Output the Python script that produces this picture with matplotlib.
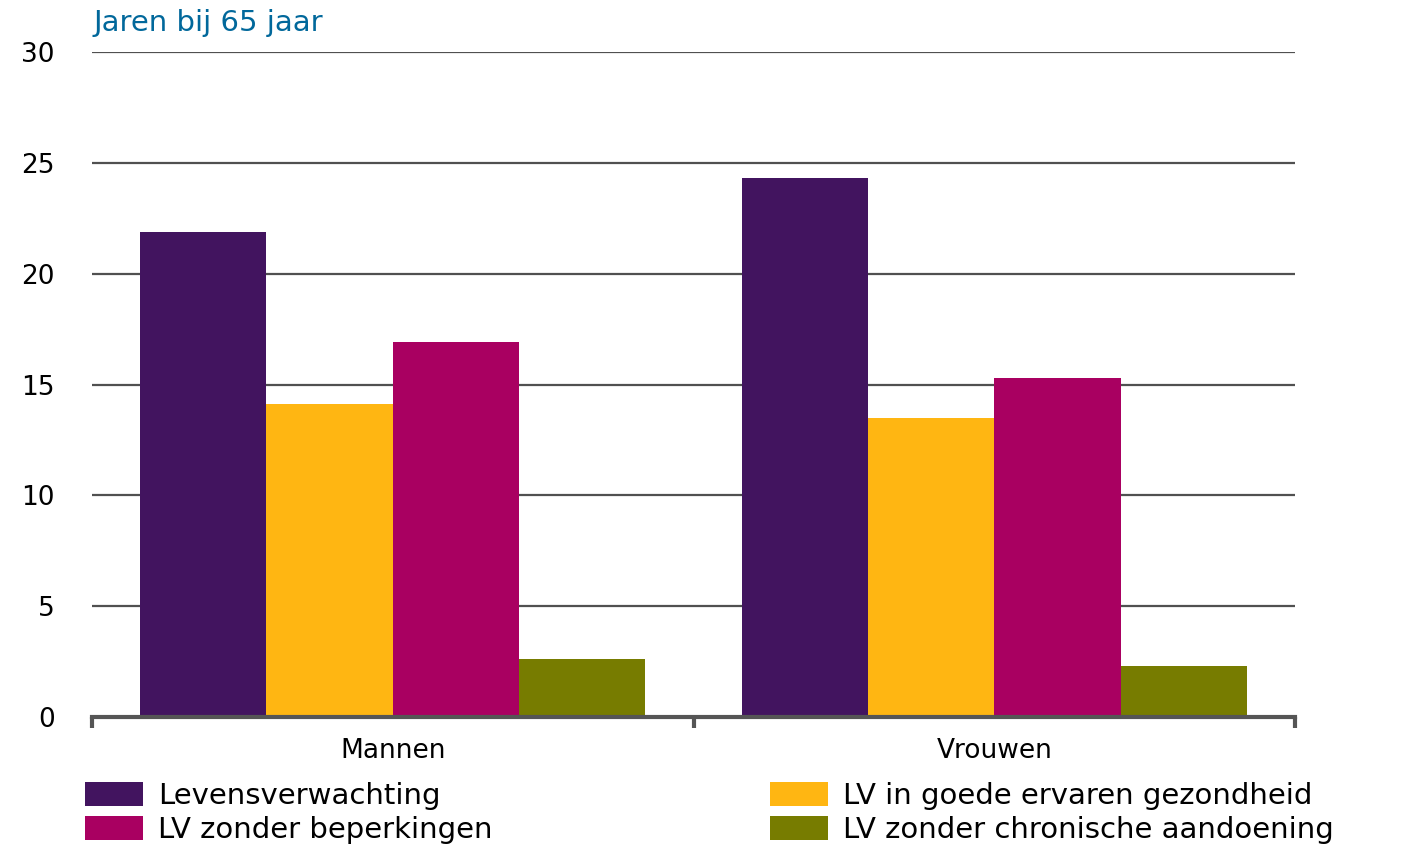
import numpy as np
import matplotlib
matplotlib.use("Agg")
import matplotlib.pyplot as plt

# data (years at age 65)
groepen = ['Mannen', 'Vrouwen']
reeksen = ['Levensverwachting', 'LV in goede ervaren gezondheid',
           'LV zonder beperkingen', 'LV zonder chronische aandoening']
levensverwachting = [21.9, 24.3]
lv_goed = [14.1, 13.5]
lv_beperkingen = [16.9, 15.3]
lv_chronisch = [2.6, 2.3]
kleuren = ['#42145f', '#ffb612', '#a90061', '#777c00']

plt.rcParams['font.family'] = ['DejaVu Sans']

fig = plt.figure(figsize=(14.07, 8.46), dpi=100)
ax = fig.add_axes([92/1407, 1 - 717/846, (1295-92)/1407, (717-52)/846])

x = np.arange(len(groepen))
w = 0.21
waarden = [levensverwachting, lv_goed, lv_beperkingen, lv_chronisch]
bars = []
for i, (vals, kl) in enumerate(zip(waarden, kleuren)):
    b = ax.bar(x + (i - 1.5) * w, vals, width=w, color=kl, linewidth=0, zorder=3)
    bars.append(b)

ax.set_xlim(-0.5, 1.5)
ax.set_ylim(0, 30)
ax.set_yticks([0, 5, 10, 15, 20, 25, 30])
ax.yaxis.grid(True, color='#505050', linewidth=1.6, zorder=0)
ax.tick_params(axis='y', length=0, labelsize=19, pad=27, labelcolor='black')

# category labels and separator ticks
ax.set_xticks([-0.5, 0.5, 1.5])
ax.set_xticklabels([])
ax.tick_params(axis='x', length=8, width=3, color='#555555', direction='out')
ax.set_xticks(x, minor=True)
ax.set_xticklabels(groepen, minor=True, fontsize=19)
ax.tick_params(axis='x', which='minor', length=0, pad=15)

for s in ['top', 'right', 'left']:
    ax.spines[s].set_visible(False)
ax.spines['bottom'].set_color('#555555')
ax.spines['bottom'].set_linewidth(3)
ax.spines['bottom'].set_zorder(4)

fig.text(93/1407, 1 - 23/846, 'Jaren bij 65 jaar', color='#01689b',
         fontsize=21, va='center', ha='left')

leg_kw = dict(frameon=False, fontsize=21, handlelength=2.0, handleheight=0.9,
              handletextpad=0.5, labelspacing=0.2, borderpad=0, borderaxespad=0,
              loc='upper left')
fig.legend([bars[0], bars[2]], [reeksen[0], reeksen[2]],
           bbox_to_anchor=(85/1407, 1 - 782/846), **leg_kw)
fig.legend([bars[1], bars[3]], [reeksen[1], reeksen[3]],
           bbox_to_anchor=(770/1407, 1 - 782/846), **leg_kw)

fig.savefig('out.png', dpi=100)
